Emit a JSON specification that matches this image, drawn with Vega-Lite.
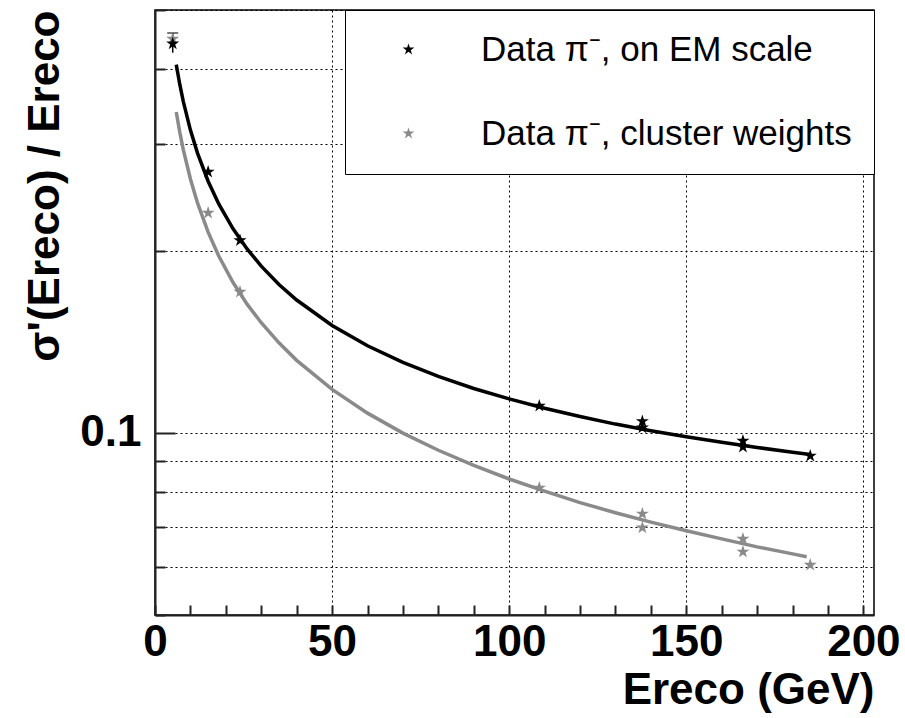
{
  "$schema": "https://vega.github.io/schema/vega-lite/v6.json",
  "width": 719,
  "height": 605,
  "autosize": {"type": "none"},
  "padding": {"left": 155, "top": 10, "right": 31, "bottom": 103},
  "background": "white",
  "config": {
    "font": "Liberation Sans",
    "view": {"stroke": "black", "strokeWidth": 1.5},
    "axis": {
      "domainColor": "#222",
      "domainWidth": 2,
      "tickColor": "#222",
      "tickWidth": 2,
      "gridColor": "black",
      "gridDash": [2, 3],
      "gridWidth": 1,
      "labelFont": "Liberation Sans",
      "labelFontWeight": "bold",
      "labelFontSize": 44,
      "labelColor": "black",
      "titleFont": "Liberation Sans",
      "titleFontWeight": "bold",
      "titleFontSize": 44,
      "titleColor": "black"
    }
  },
  "datasets": {
    "points": [
      {"series": "Data π⁻, cluster weights", "E": 5, "val": 0.448},
      {"series": "Data π⁻, cluster weights", "E": 15, "val": 0.231},
      {"series": "Data π⁻, cluster weights", "E": 24, "val": 0.171},
      {"series": "Data π⁻, cluster weights", "E": 108.5, "val": 0.0811},
      {"series": "Data π⁻, cluster weights", "E": 137.6, "val": 0.0735},
      {"series": "Data π⁻, cluster weights", "E": 137.6, "val": 0.0697},
      {"series": "Data π⁻, cluster weights", "E": 166, "val": 0.0668},
      {"series": "Data π⁻, cluster weights", "E": 166, "val": 0.0636},
      {"series": "Data π⁻, cluster weights", "E": 185, "val": 0.0605},
      {"series": "Data π⁻, on EM scale", "E": 5, "val": 0.44},
      {"series": "Data π⁻, on EM scale", "E": 15, "val": 0.27},
      {"series": "Data π⁻, on EM scale", "E": 24, "val": 0.208},
      {"series": "Data π⁻, on EM scale", "E": 108.5, "val": 0.1108},
      {"series": "Data π⁻, on EM scale", "E": 137.6, "val": 0.1045},
      {"series": "Data π⁻, on EM scale", "E": 137.6, "val": 0.102},
      {"series": "Data π⁻, on EM scale", "E": 166, "val": 0.097},
      {"series": "Data π⁻, on EM scale", "E": 166, "val": 0.0948},
      {"series": "Data π⁻, on EM scale", "E": 185, "val": 0.0916}
    ],
    "errors": [
      {"E": 5, "lo": 0.425, "hi": 0.458}
    ],
    "curves": [
      {"series": "em", "E": 6, "val": 0.4061},
      {"series": "em", "E": 7, "val": 0.3766},
      {"series": "em", "E": 8, "val": 0.3528},
      {"series": "em", "E": 10, "val": 0.3166},
      {"series": "em", "E": 12, "val": 0.29},
      {"series": "em", "E": 15, "val": 0.2606},
      {"series": "em", "E": 18, "val": 0.239},
      {"series": "em", "E": 22, "val": 0.2176},
      {"series": "em", "E": 26, "val": 0.2014},
      {"series": "em", "E": 30, "val": 0.1886},
      {"series": "em", "E": 35, "val": 0.1759},
      {"series": "em", "E": 40, "val": 0.1658},
      {"series": "em", "E": 50, "val": 0.1505},
      {"series": "em", "E": 60, "val": 0.1393},
      {"series": "em", "E": 70, "val": 0.1308},
      {"series": "em", "E": 80, "val": 0.124},
      {"series": "em", "E": 90, "val": 0.1184},
      {"series": "em", "E": 100, "val": 0.1138},
      {"series": "em", "E": 110, "val": 0.1098},
      {"series": "em", "E": 120, "val": 0.1064},
      {"series": "em", "E": 130, "val": 0.1034},
      {"series": "em", "E": 140, "val": 0.1008},
      {"series": "em", "E": 150, "val": 0.0985},
      {"series": "em", "E": 160, "val": 0.0965},
      {"series": "em", "E": 170, "val": 0.0946},
      {"series": "em", "E": 180, "val": 0.0929},
      {"series": "em", "E": 185, "val": 0.0921},
      {"series": "cw", "E": 6, "val": 0.3391},
      {"series": "cw", "E": 7, "val": 0.314},
      {"series": "cw", "E": 8, "val": 0.2937},
      {"series": "cw", "E": 10, "val": 0.2628},
      {"series": "cw", "E": 12, "val": 0.2399},
      {"series": "cw", "E": 15, "val": 0.2147},
      {"series": "cw", "E": 18, "val": 0.196},
      {"series": "cw", "E": 22, "val": 0.1774},
      {"series": "cw", "E": 26, "val": 0.1632},
      {"series": "cw", "E": 30, "val": 0.1521},
      {"series": "cw", "E": 35, "val": 0.1409},
      {"series": "cw", "E": 40, "val": 0.1318},
      {"series": "cw", "E": 50, "val": 0.118},
      {"series": "cw", "E": 60, "val": 0.1078},
      {"series": "cw", "E": 70, "val": 0.0999},
      {"series": "cw", "E": 80, "val": 0.0936},
      {"series": "cw", "E": 90, "val": 0.0884},
      {"series": "cw", "E": 100, "val": 0.0839},
      {"series": "cw", "E": 110, "val": 0.0801},
      {"series": "cw", "E": 120, "val": 0.0767},
      {"series": "cw", "E": 130, "val": 0.0738},
      {"series": "cw", "E": 140, "val": 0.0712},
      {"series": "cw", "E": 150, "val": 0.0689},
      {"series": "cw", "E": 160, "val": 0.0668},
      {"series": "cw", "E": 170, "val": 0.0648},
      {"series": "cw", "E": 180, "val": 0.0631},
      {"series": "cw", "E": 184, "val": 0.0624}
    ]
  },
  "layer": [
    {
      "data": {"name": "curves"},
      "mark": {"type": "line", "strokeWidth": 3.5, "clip": true},
      "encoding": {
        "x": {
          "field": "E", "type": "quantitative",
          "scale": {"domain": [0, 203], "nice": false, "zero": false},
          "axis": {
            "values": [0, 10, 20, 30, 40, 50, 60, 70, 80, 90, 100, 110, 120, 130, 140, 150, 160, 170, 180, 190, 200],
            "tickCount": 30,
            "labelExpr": "datum.value % 50 === 0 ? datum.label : ''",
            "gridOpacity": {"condition": {"test": "datum.value % 50 === 0 && datum.value > 0", "value": 1}, "value": 0},
            "tickSize": -10,
            "labelPadding": 15,
            "labelFlush": false,
            "labelOverlap": false,
            "title": "Ereco (GeV)",
            "titleAnchor": "end",
            "titleAlign": "right",
            "titlePadding": 4
          }
        },
        "y": {
          "field": "val", "type": "quantitative",
          "scale": {"type": "log", "domain": [0.05, 0.5], "nice": false, "zero": false},
          "axis": {
            "values": [0.05, 0.06, 0.07, 0.08, 0.09, 0.1, 0.2, 0.3, 0.4, 0.5],
            "tickCount": 20,
            "labelExpr": "abs(datum.value - 0.1) < 1e-9 ? '0.1' : ''",
            "tickSize": {"condition": {"test": "abs(datum.value - 0.1) < 1e-9", "value": -20}, "value": -10},
            "labelPadding": 34,
            "labelFlush": false,
            "labelOverlap": false,
            "title": "σ'(Ereco) / Ereco",
            "titleAnchor": "end",
            "titlePadding": 12
          }
        },
        "stroke": {
          "field": "series", "type": "nominal",
          "scale": {"domain": ["em", "cw"], "range": ["black", "#8a8a8a"]},
          "legend": null
        }
      }
    },
    {
      "data": {"name": "errors"},
      "mark": {"type": "rule", "color": "black", "strokeWidth": 1.5},
      "encoding": {
        "x": {"field": "E", "type": "quantitative"},
        "y": {"field": "lo", "type": "quantitative"},
        "y2": {"field": "hi"}
      }
    },
    {
      "data": {"name": "errors"},
      "mark": {"type": "tick", "orient": "horizontal", "color": "black", "size": 11, "thickness": 1.5},
      "encoding": {
        "x": {"field": "E", "type": "quantitative"},
        "y": {"field": "hi", "type": "quantitative"}
      }
    },
    {
      "data": {"name": "points"},
      "mark": {
        "type": "point",
        "filled": true,
        "opacity": 1,
        "size": 190,
        "shape": "M0,-1L0.224,-0.309L0.951,-0.309L0.363,0.118L0.588,0.809L0,0.382L-0.588,0.809L-0.363,0.118L-0.951,-0.309L-0.224,-0.309Z"
      },
      "encoding": {
        "x": {"field": "E", "type": "quantitative"},
        "y": {"field": "val", "type": "quantitative"},
        "color": {
          "field": "series", "type": "nominal",
          "scale": {"domain": ["Data π⁻, on EM scale", "Data π⁻, cluster weights"], "range": ["black", "#8a8a8a"]},
          "legend": {
            "title": null,
            "orient": "top-right",
            "offset": 0,
            "symbolType": "M0,-1L0.224,-0.309L0.951,-0.309L0.363,0.118L0.588,0.809L0,0.382L-0.588,0.809L-0.363,0.118L-0.951,-0.309L-0.224,-0.309Z",
            "symbolSize": 150,
            "symbolStrokeWidth": 0,
            "labelFont": "Liberation Sans",
            "labelFontSize": 35,
            "labelColor": "black",
            "labelLimit": 600,
            "padding": 22,
            "rowPadding": 48,
            "symbolOffset": 24,
            "labelOffset": 55,
            "strokeColor": "black",
            "fillColor": "white"
          }
        }
      }
    }
  ]
}
